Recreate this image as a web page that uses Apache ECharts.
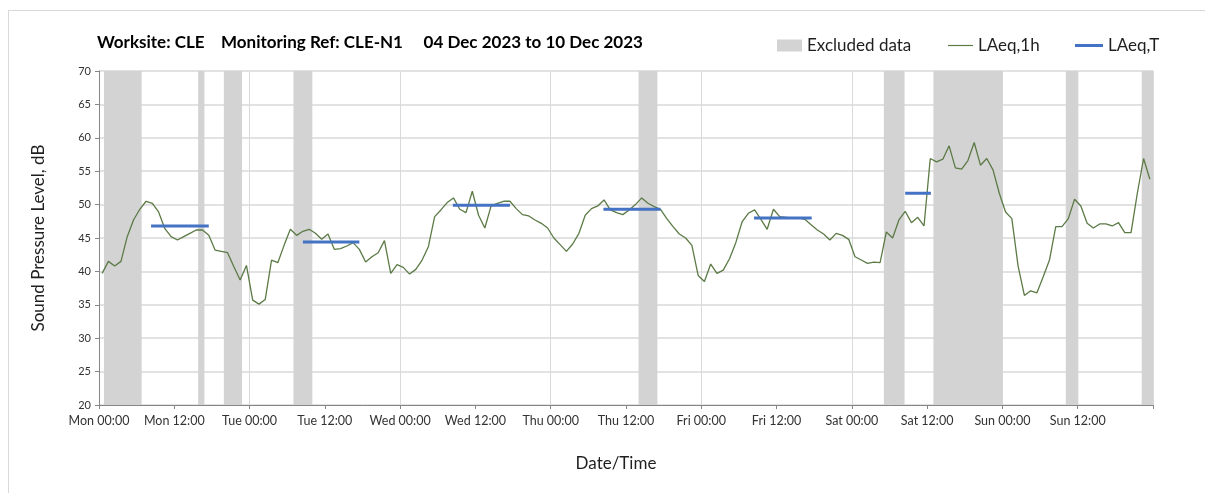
<!DOCTYPE html>
<html>
<head>
<meta charset="utf-8">
<script src="https://cdn.jsdelivr.net/npm/echarts@6/dist/echarts.min.js"></script>
<style>
  html, body { margin: 0; padding: 0; background: #fff; }
  #main { position: absolute; left: 8px; top: 10px; width: 1196px; height: 482px; border-left: 1px solid #d9d9d9; border-top: 1px solid #d9d9d9; }
</style>
</head>
<body>
<div id="main"></div>
<script>
// hourly LAeq,1h values, one per hour from Mon 00:00 (plotted at the middle of each hour)
var laeq1h = [
  39.7, 41.5, 40.8, 41.5, 45.2, 47.7, 49.3, 50.5, 50.2, 48.9, 46.4, 45.2,
  44.7, 45.2, 45.7, 46.2, 46.2, 45.4, 43.2, 43.0, 42.8, 40.7, 38.7, 40.9,
  35.7, 35.1, 35.8, 41.7, 41.3, 43.9, 46.3, 45.4, 46.0, 46.3, 45.7, 44.8,
  45.6, 43.3, 43.4, 43.8, 44.3, 43.3, 41.4, 42.2, 42.8, 44.6, 39.7, 41.0,
  40.6, 39.6, 40.3, 41.7, 43.7, 48.2, 49.2, 50.3, 51.0, 49.3, 48.8, 52.0,
  48.4, 46.5, 49.8, 50.2, 50.5, 50.5, 49.4, 48.5, 48.3, 47.7, 47.2, 46.5,
  45.0, 44.0, 43.0, 44.1, 45.7, 48.4, 49.4, 49.8, 50.7, 49.2, 48.8, 48.5,
  49.2, 50.0, 51.0, 50.2, 49.7, 49.3, 47.9, 46.7, 45.6, 45.0, 43.9, 39.4,
  38.5, 41.1, 39.7, 40.2, 41.9, 44.3, 47.4, 48.7, 49.2, 47.8, 46.3, 49.3,
  48.2, 48.1, 48.0, 48.0, 47.8, 47.0, 46.2, 45.6, 44.7, 45.7, 45.4, 44.8,
  42.2, 41.7, 41.2, 41.4, 41.3, 45.9, 45.0, 47.7, 49.0, 47.3, 48.1, 46.8,
  56.9, 56.4, 56.8, 58.8, 55.5, 55.3, 56.6, 59.3, 55.9, 56.9, 55.2, 51.7,
  48.9, 47.9, 40.8, 36.4, 37.1, 36.8, 39.2, 41.7, 46.7, 46.7, 47.9, 50.8,
  49.8, 47.2, 46.5, 47.1, 47.1, 46.8, 47.3, 45.8, 45.8, 51.7, 56.9, 53.8
];

// LAeq,T daytime periods (hours from Mon 00:00)
var laeqTStart = [8.3, 32.5, 56.4, 80.4, 104.4, 128.5];
var laeqTEnd = [17.5, 41.5, 65.5, 89.5, 113.6, 132.6];
var laeqTValue = [46.8, 44.4, 49.9, 49.3, 48.0, 51.7];

// excluded data periods (hours from Mon 00:00)
var excludedStart = [0.8, 15.8, 19.9, 31.0, 86.0, 125.1, 133.0, 154.1, 166.2];
var excludedEnd = [6.8, 16.8, 22.8, 34.0, 89.0, 128.4, 144.0, 156.1, 168.0];

var dayNames = ['Mon', 'Tue', 'Wed', 'Thu', 'Fri', 'Sat', 'Sun'];

var chartDom = document.getElementById('main');
var myChart = echarts.init(chartDom);
var option;

var lineData = laeq1h.map(function (v, i) { return [i + 0.5, v]; });

var tData = [];
laeqTStart.forEach(function (s, i) {
    tData.push([s, laeqTValue[i]]);
    tData.push([laeqTEnd[i], laeqTValue[i]]);
    tData.push([laeqTEnd[i], null]);
});

var bands = excludedStart.map(function (s, i) {
    return [{ xAxis: s }, { xAxis: excludedEnd[i] }];
});

var font = 'Lato, "Open Sans", sans-serif';

option = {
    animation: false,
    textStyle: { fontFamily: font },
    title: {
        text: 'Worksite: CLE    Monitoring Ref: CLE-N1     04 Dec 2023 to 10 Dec 2023',
        left: 88,
        top: 23,
        padding: 0,
        textStyle: { fontSize: 17, fontWeight: 'bold', color: '#000', fontFamily: font }
    },
    legend: [
        {
            data: [{ name: 'Excluded data', icon: 'rect' }],
            left: 768, top: 26, padding: 0, itemWidth: 25, itemHeight: 12,
            textStyle: { fontSize: 17, color: '#1f1f1f' }
        },
        {
            data: [{ name: 'LAeq,1h', icon: 'rect' }],
            left: 939, top: 26, padding: 0, itemWidth: 25, itemHeight: 1.2,
            textStyle: { fontSize: 17, color: '#1f1f1f' }
        },
        {
            data: [{ name: 'LAeq,T', icon: 'rect' }],
            left: 1066, top: 26, padding: 0, itemWidth: 28, itemHeight: 3,
            textStyle: { fontSize: 17, color: '#1f1f1f' }
        }
    ],
    grid: { left: 90, right: 52, top: 60, bottom: 88 },
    xAxis: [
        {
            type: 'value', min: 0, max: 168, interval: 24,
            axisLine: { show: true, lineStyle: { color: '#868686' } },
            axisTick: { show: false },
            axisLabel: { show: false },
            splitLine: { show: true, lineStyle: { color: '#d9d9d9' } }
        },
        {
            type: 'value', min: 0, max: 168, interval: 12, position: 'bottom',
            name: 'Date/Time', nameLocation: 'middle', nameGap: 50,
            nameTextStyle: { fontSize: 17, color: '#1f1f1f', padding: [0, 20, 0, 0] },
            axisLine: { show: false },
            axisTick: { show: true, length: 4, lineStyle: { color: '#868686' } },
            splitLine: { show: false },
            axisLabel: {
                fontSize: 12.5, color: '#333', margin: 9,
                formatter: function (v) {
                    if (v >= 168) return '';
                    var d = Math.floor(v / 24);
                    return dayNames[d] + (v % 24 === 0 ? ' 00:00' : ' 12:00');
                }
            }
        }
    ],
    yAxis: {
        type: 'value', min: 20, max: 70, interval: 5,
        name: 'Sound Pressure Level, dB', nameLocation: 'middle', nameGap: 52,
        nameTextStyle: { fontSize: 17, color: '#1f1f1f' },
        axisLine: { show: true, lineStyle: { color: '#868686' } },
        axisTick: { show: true, length: 4, lineStyle: { color: '#868686' } },
        axisLabel: { fontSize: 11, color: '#333', margin: 8 },
        splitLine: { show: true, lineStyle: { color: '#d9d9d9', width: 1.5 } }
    },
    series: [
        {
            name: 'Excluded data',
            type: 'line',
            data: [],
            z: 1,
            itemStyle: { color: '#d3d3d3' },
            markArea: {
                silent: true,
                itemStyle: { color: '#d3d3d3', opacity: 1 },
                data: bands
            }
        },
        {
            name: 'LAeq,1h',
            type: 'line',
            data: lineData,
            symbol: 'none',
            z: 3,
            itemStyle: { color: '#5b7a45' },
            lineStyle: { color: '#5b7a45', width: 1.3 }
        },
        {
            name: 'LAeq,T',
            type: 'line',
            data: tData,
            symbol: 'none',
            connectNulls: false,
            z: 4,
            itemStyle: { color: '#4472c4' },
            lineStyle: { color: '#4472c4', width: 3 }
        }
    ]
};
option && myChart.setOption(option);
</script>
</body>
</html>
